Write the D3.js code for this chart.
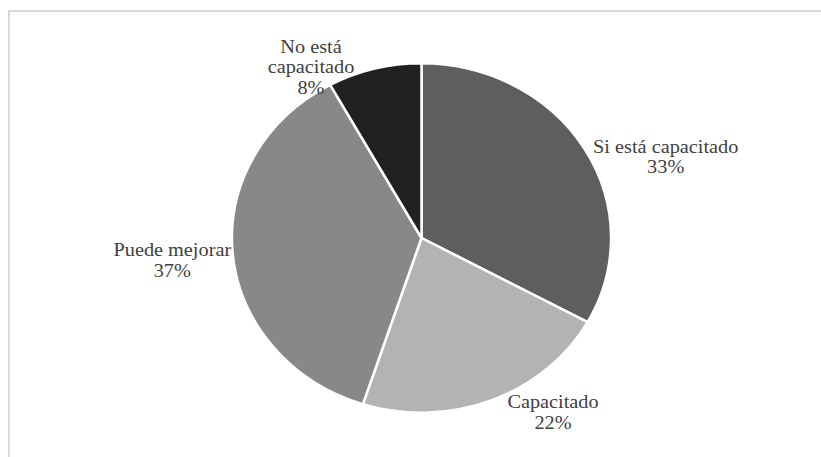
<!DOCTYPE html>
<html>
<head>
<meta charset="utf-8">
<script src="https://cdn.jsdelivr.net/npm/d3@7"></script>
<style>
  html, body { margin: 0; padding: 0; background: #fff; }
  svg { display: block; }
  .lbl { font-family: "Liberation Serif", Tinos, "Times New Roman", Times, serif; }
</style>
</head>
<body>
<svg id="chart" width="821" height="457"></svg>
<script>
// Categories and their shares (percent), clockwise from 12 o'clock
const categories = ["Si está capacitado", "Capacitado", "Puede mejorar", "No está capacitado"];
const shares = [33, 22, 37, 8];
// Label lines shown for each slice
const labelLines = [
  ["Si está capacitado"],
  ["Capacitado"],
  ["Puede mejorar"],
  ["No está", "capacitado"]
];
const sliceColors = ["#5e5e5e", "#b3b3b3", "#888888", "#212121"];

// Layout
const W = 821, H = 457;
const cx = 421.5, cy = 238, r = 174.7;
const stretchX = 1.085;          // chart is drawn slightly wider than tall
const fontSize = 18.7;
const lineGap = 20.7;
// Label anchors (center x, first baseline y) per slice
const labelAnchors = [
  [665.7, 152.7],
  [553, 408.3],
  [172.3, 256],
  [311, 52.7]
];

const svg = d3.select("#chart");

// Chart area frame
svg.append("rect")
  .attr("x", 9).attr("y", 11)
  .attr("width", 900).attr("height", 600)
  .attr("fill", "none")
  .attr("stroke", "#d9d9d9")
  .attr("stroke-width", 2);

const pie = d3.pie().sort(null).value(d => d)(shares);
const arc = d3.arc().innerRadius(0).outerRadius(r);

const g = svg.append("g")
  .attr("transform", `translate(${cx},${cy}) scale(${stretchX},1)`);

g.selectAll("path")
  .data(pie)
  .join("path")
  .attr("d", arc)
  .attr("fill", (d, i) => sliceColors[i])
  .attr("stroke", "#ffffff")
  .attr("stroke-width", 2.5)
  .attr("vector-effect", "non-scaling-stroke")
  .attr("stroke-linejoin", "round");

// Data labels: category name lines then percentage
const labels = svg.selectAll("text.lbl")
  .data(pie)
  .join("text")
  .attr("class", "lbl")
  .attr("transform", (d, i) => `translate(${labelAnchors[i][0]},${labelAnchors[i][1]}) scale(${stretchX},1)`)
  .attr("text-anchor", "middle")
  .style("font-size", fontSize + "px")
  .attr("fill", "#404040");

labels.each(function(d, i) {
  const t = d3.select(this);
  const lines = labelLines[i].concat([Math.round(d.value) + "%"]);
  lines.forEach((ln, k) => {
    t.append("tspan").attr("x", 0).attr("y", k * lineGap).text(ln);
  });
});
</script>
</body>
</html>
